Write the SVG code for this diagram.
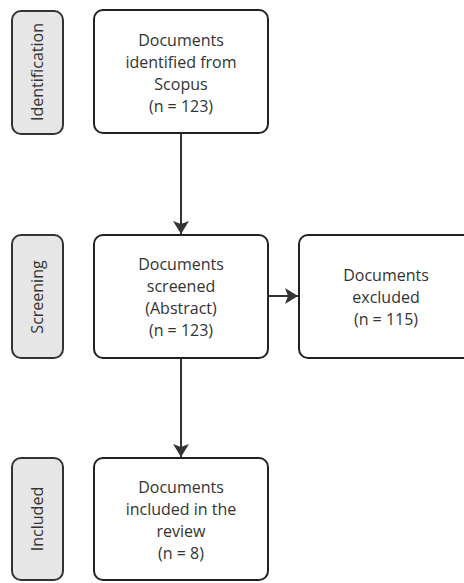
<svg xmlns="http://www.w3.org/2000/svg" width="464" height="583" viewBox="0 0 464 583">
  <style>
    .stage rect { fill: #e6e6e6; stroke: #333333; stroke-width: 2; }
    .box rect { fill: #ffffff; stroke: #222222; stroke-width: 2; }
    text { font-family: "Open Sans", "Noto Sans", sans-serif; font-size: 16px; fill: #333333; text-anchor: middle; }
    .edge { stroke: #333333; stroke-width: 2; fill: none; marker-end: url(#arrow); }
  </style>
  <defs>
    <marker id="arrow" viewBox="0 0 13 16" refX="13" refY="8" markerWidth="13" markerHeight="16" markerUnits="userSpaceOnUse" orient="auto">
      <path d="M0,0 L13,8 L0,16 L3,8 z" fill="#333333"/>
    </marker>
  </defs>

  <!-- stage labels -->
  <g id="stage-identification" class="stage">
    <rect x="12" y="11" width="51" height="123" rx="9"/>
    <text transform="translate(43,72) rotate(-90)">Identification</text>
  </g>
  <g id="stage-screening" class="stage">
    <rect x="12" y="235" width="51" height="123" rx="9"/>
    <text transform="translate(43,297) rotate(-90)">Screening</text>
  </g>
  <g id="stage-included" class="stage">
    <rect x="12" y="458" width="51" height="122" rx="9"/>
    <text transform="translate(43,519) rotate(-90)">Included</text>
  </g>

  <!-- process boxes -->
  <g id="identified" class="box">
    <rect x="94" y="10" width="174" height="123" rx="9"/>
    <text x="181" y="46">Documents</text>
    <text x="181" y="68">identified from</text>
    <text x="181" y="90">Scopus</text>
    <text x="181" y="112">(n = 123)</text>
  </g>
  <g id="screened" class="box">
    <rect x="94" y="235" width="174" height="123" rx="9"/>
    <text x="181" y="270">Documents</text>
    <text x="181" y="292">screened</text>
    <text x="181" y="314">(Abstract)</text>
    <text x="181" y="336">(n = 123)</text>
  </g>
  <g id="excluded" class="box">
    <rect x="299" y="235" width="175" height="123" rx="9"/>
    <text x="386" y="281">Documents</text>
    <text x="386" y="303">excluded</text>
    <text x="386" y="325">(n = 115)</text>
  </g>
  <g id="included" class="box">
    <rect x="94" y="458" width="174" height="122" rx="9"/>
    <text x="181" y="493">Documents</text>
    <text x="181" y="515">included in the</text>
    <text x="181" y="537">review</text>
    <text x="181" y="559">(n = 8)</text>
  </g>

  <!-- connectors -->
  <g id="connectors">
    <line class="edge" x1="181" y1="134" x2="181" y2="234"/>
    <line class="edge" x1="269" y1="296" x2="298" y2="296"/>
    <line class="edge" x1="181" y1="359" x2="181" y2="457"/>
  </g>
</svg>
